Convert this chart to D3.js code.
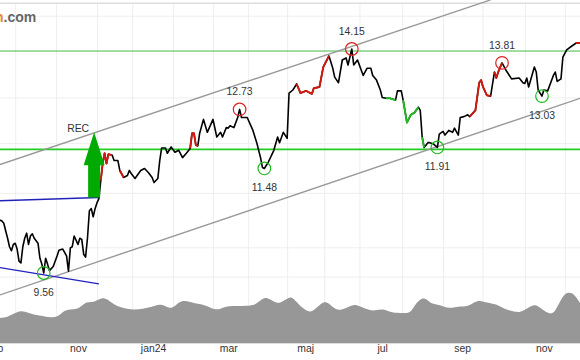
<!DOCTYPE html>
<html>
<head>
<meta charset="utf-8">
<script src="https://cdn.jsdelivr.net/npm/d3@7"></script>
<style>
  html, body { margin: 0; padding: 0; background: #fff; overflow: hidden; }
  text { font-family: "Liberation Sans", Arial, sans-serif; }
</style>
</head>
<body>
<svg id="chart"></svg>
<script>
const width = 580, height = 360;

// Price line (day = trading day counted from the left edge)
const days = [0,1,2,3,4,5,6,7,8,9,10,11,12,13,14,15,16,17,18,20,21,22,23,24,25,26,28,30,31,33,35,36,37,38,39,41,42,43,44,45,46,47,48,49,50,51,52,53,54,55,56,57,59,60,62,63,65,67,68,69,71,74,76,78,80,81,83,84,85,87,88,90,92,94,96,98,100,101,102,103,104,105,107,109,110,112,114,116,117,119,120,121,123,125,126,127,130,133,135,137,138,139,141,144,146,147,149,151,152,154,156,158,161,164,165,168,170,173,175,176,178,180,182,183,185,186,188,191,193,195,196,198,200,201,203,205,208,209,211,212,214,216,218,220,221,222,223,225,226,228,230,231,233,234,236,238,239,241,242,244,246,247,250,252,253,254,256,258,260,261,262,264,266,269,273,275,276,277,278,281,282,283,285,286,288,291,292,293,295,296,298,300,303,305];
const prices = [10.49,10.47,10.43,10.29,10.16,10.01,9.94,10.05,10.07,9.97,9.76,9.73,10.01,10.16,10.25,10.05,10.20,10.24,10.16,10.07,9.81,9.71,9.56,9.81,9.71,9.60,9.67,9.85,9.95,9.97,9.85,9.59,9.99,10.01,10.20,10.05,10.16,10.14,9.88,9.83,10.16,10.66,10.70,10.55,10.70,10.81,10.89,11.24,11.58,11.79,11.58,11.77,11.75,11.64,11.64,11.44,11.30,11.34,11.44,11.38,11.28,11.44,11.48,11.40,11.30,11.20,11.28,11.64,11.90,11.90,11.79,11.92,11.81,11.85,11.70,11.79,11.89,12.21,12.21,11.96,11.94,12.21,12.51,12.23,12.32,12.51,12.13,12.23,12.13,12.33,12.32,12.37,12.33,12.55,12.73,12.55,12.55,12.27,12.01,11.70,11.50,11.48,11.60,11.85,12.13,12.01,12.23,12.10,13.10,13.17,13.31,13.10,13.15,13.08,13.21,13.24,13.71,13.98,13.68,13.47,13.34,13.88,13.93,13.76,14.15,13.76,13.88,13.51,13.68,13.68,13.51,13.40,13.17,13.00,12.98,12.98,12.94,13.15,13.15,12.94,12.44,12.61,12.66,12.78,12.71,12.13,11.91,12.01,12.01,11.98,11.91,12.19,12.25,12.17,12.27,12.23,12.32,12.17,12.55,12.57,12.61,12.57,12.71,13.34,13.40,13.24,13.05,13.03,13.59,13.45,13.59,13.81,13.64,13.43,13.45,13.34,13.32,13.45,13.24,13.71,13.59,13.17,13.03,13.17,13.15,13.51,13.59,13.37,13.43,13.95,14.13,14.20,14.30,14.30];

// Stretches of the line drawn in another colour: first day, last day
const redRuns = [[53,59],[63,65],[100,104],[155,173],[247,258],[260,264],[303,305]];
const greenRuns = [[203,208],[212,220],[222,223]];

// Circled turning points
const pivotDays = [23,126,139,185,230,264,285];
const pivotPrices = [9.56,12.73,11.48,14.15,11.91,13.81,13.03];
const pivotKinds = ["low","high","low","high","low","high","low"];

// Support and resistance levels
const levelPrices = [14.10,11.87];
const channelUpper = [[0,11.56],[258,15.42]];
const channelLower = [[0,9.20],[305,12.98]];
const blueUpper = [[0,10.85],[52,10.91]];
const blueLower = [[0,9.65],[52,9.38]];

// REC arrow
const recDay = 49.5;
const recTop = 12.23;
const recBase = 10.91;

// Volume band along the bottom
const volDays = [0,4,7,11,15,18,23,28,31,34,38,41,44,46,50,54,57,61,65,70,75,80,84,87,90,93,96,100,104,108,113,116,119,125,133,136,139,142,146,149,153,155,159,163,166,170,173,177,181,186,189,195,198,202,206,212,216,218,222,225,227,232,236,241,246,251,254,261,264,272,275,281,283,289,292,296,299,302,305];
const volumes = [25,26,29,33,30,28,27,25,27,33,34,34,39,41,41,46,43,37,35,33,34,36,39,37,34,39,43,41,39,38,33,34,37,37,37,41,46,44,39,42,47,43,35,30,34,42,40,32,34,39,37,32,33,34,30,30,30,38,46,43,39,38,34,37,36,43,41,39,35,30,32,39,37,28,31,48,51,49,40];

// Axis ticks
const monthStarts = [8,29.5,51,69.5,91,112,130.5,151,170.5,189,211.5,233,253.7,276,297];
const labelDays = [-3,41,80.5,120,160.5,201,243,286];
const labelNames = ["sep","nov","jan24","mar","maj","jul","sep","nov"];
const gridPrices = [15,13,12,11,10,9.5];

const svg = d3.select("#chart").attr("width", width).attr("height", height);

const x = d3.scaleLinear().domain([0, 305]).range([0, 580]);
const y = d3.scaleLog().domain([9.56, 14.15]).range([273, 49]);
const v = d3.scaleLinear().domain([0, 60]).range([343, 283]);

// Top edge of the plot
svg.append("rect").attr("x", 0).attr("y", 2.5).attr("width", width).attr("height", 1.5).attr("fill", "#dedede");

// Grid
svg.append("g")
    .attr("transform", "translate(0,343)")
    .call(d3.axisBottom(x).tickValues(monthStarts).tickSize(-339).tickFormat(""))
    .call(g => g.select(".domain").remove())
    .call(g => g.selectAll("line").attr("stroke", "#eeeeee"));

svg.append("g")
    .call(d3.axisRight(y).tickValues(gridPrices).tickSize(width).tickFormat(""))
    .call(g => g.select(".domain").remove())
    .call(g => g.selectAll("line").attr("stroke", "#eeeeee"));

// Watermark
const mark = svg.append("text").attr("x", -5).attr("y", 22)
    .attr("font-size", 14).attr("font-weight", "bold").attr("fill", "#666");
mark.append("tspan").attr("fill", "#e08a3c").text("n");
mark.append("tspan").text(".com");

// Volume
const volArea = d3.area()
    .x((d, i) => x(volDays[i]))
    .y0(v(0))
    .y1(d => v(d))
    .curve(d3.curveBasis);
svg.append("path").attr("d", volArea(volumes)).attr("fill", "#979797");
svg.append("line").attr("x1", 0).attr("x2", width).attr("y1", 343.5).attr("y2", 343.5).attr("stroke", "#dddddd");

// Month labels
svg.append("g")
    .attr("transform", "translate(0,343)")
    .call(d3.axisBottom(x).tickValues(labelDays).tickSize(0).tickPadding(0)
        .tickFormat((d, i) => labelNames[i]))
    .call(g => g.select(".domain").remove())
    .call(g => g.selectAll("text")
        .attr("font-family", '"Liberation Sans", Arial, sans-serif')
        .attr("font-size", 10.4).attr("fill", "#333").attr("dy", "0.85em"));

// Horizontal levels
svg.selectAll(".level")
    .data(levelPrices)
    .enter().append("line")
    .attr("class", "level")
    .attr("x1", 0).attr("x2", width)
    .attr("y1", d => y(d)).attr("y2", d => y(d))
    .attr("stroke", (d, i) => i === 0 ? "#44bb44" : "#22cc22")
    .attr("stroke-width", (d, i) => i === 0 ? 1 : 1.6);

// Trend lines
const straight = d3.line().x(d => x(d[0])).y(d => y(d[1]));
[channelUpper, channelLower].forEach(c => {
    svg.append("path").attr("d", straight(c)).attr("fill", "none")
        .attr("stroke", "#999").attr("stroke-width", 1.4);
});
[blueUpper, blueLower].forEach(c => {
    svg.append("path").attr("d", straight(c)).attr("fill", "none")
        .attr("stroke", "#2222bb").attr("stroke-width", 1.4);
});

// Price line
const series = days.map((d, i) => [d, prices[i]]);
svg.append("path").attr("d", straight(series)).attr("fill", "none")
    .attr("stroke", "#000").attr("stroke-width", 1.6).attr("stroke-linejoin", "round");

function drawRuns(runs, color) {
    runs.forEach(r => {
        const part = series.filter(d => d[0] >= r[0] && d[0] <= r[1]);
        svg.append("path").attr("d", straight(part)).attr("fill", "none")
            .attr("stroke", color).attr("stroke-width", 1.9).attr("stroke-linejoin", "round");
    });
}
drawRuns(redRuns, "#d01a10");
drawRuns(greenRuns, "#22bb22");

// REC arrow
const ax = x(recDay), at = y(recTop), ab = y(recBase);
svg.append("path")
    .attr("d", `M${ax},${at}L${ax + 10.5},${at + 33}L${ax + 6},${at + 33}L${ax + 6},${ab}L${ax - 6},${ab}L${ax - 6},${at + 33}L${ax - 10.5},${at + 33}Z`)
    .attr("fill", "#00aa00");
svg.append("text").attr("x", ax - 16).attr("y", at - 0.5).attr("text-anchor", "middle")
    .attr("font-size", 10.4).attr("fill", "#333").text("REC");

// Turning points
pivotDays.forEach((d, i) => {
    const high = pivotKinds[i] === "high";
    svg.append("circle").attr("cx", x(d)).attr("cy", y(pivotPrices[i])).attr("r", 6.3)
        .attr("fill", "none").attr("stroke", high ? "#dd2222" : "#22bb22").attr("stroke-width", 1.2);
    svg.append("text").attr("x", x(d)).attr("y", y(pivotPrices[i]) + (high ? -14 : 23))
        .attr("text-anchor", "middle").attr("font-size", 10.4).attr("fill", "#333")
        .text(pivotPrices[i].toFixed(2));
});
</script>
</body>
</html>
